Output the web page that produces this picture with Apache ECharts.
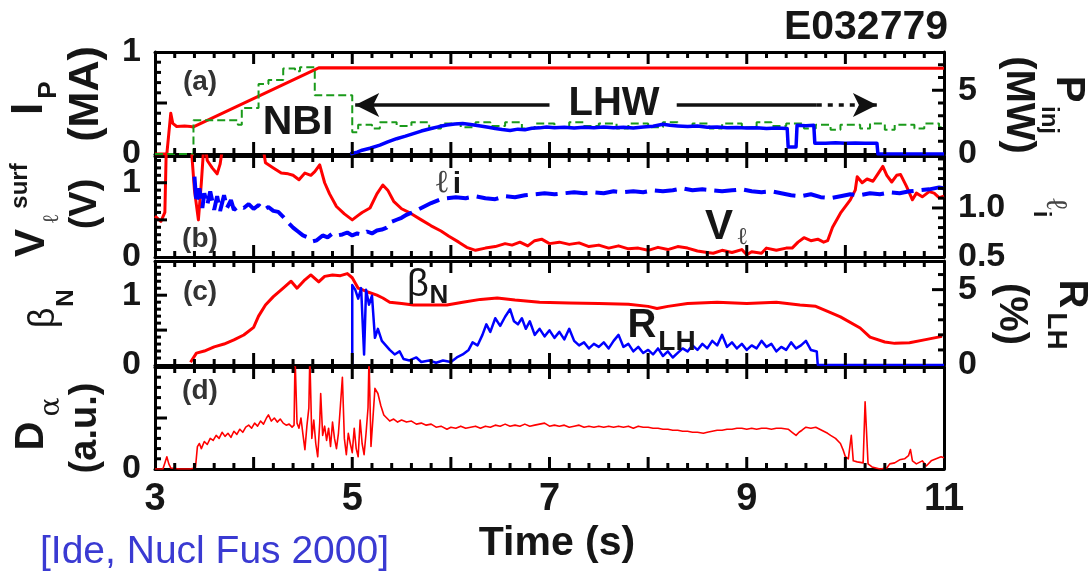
<!DOCTYPE html>
<html>
<head>
<meta charset="utf-8">
<script src="https://cdn.jsdelivr.net/npm/echarts@6/dist/echarts.min.js"></script>
<style>
  html, body { margin: 0; padding: 0; background: #fff; }
  #chart { width: 1089px; height: 580px; }
</style>
</head>
<body>
<div id="chart"></div>
<script>
// ---- time axis ----
const timeMin = 3, timeMax = 11;
const timeLabels = [3, 5, 7, 9, 11];

// ---- (a) plasma current (MA) and injected power (MW) ----
const ipCurrent = [[3.0,0],[3.12,0],[3.14,0.2],[3.16,0.4],[3.18,0.3],[3.22,0.27],[3.3,0.275],[3.36,0.27],[3.39,0.265],[4.66,0.845],[11.0,0.84]];
const nbiPower = [[3.0,0],[3.39,2.65],[3.84,2.3],[3.88,3.6],[4.05,5.5],[4.15,5.8],[4.3,6.7],[4.42,6.5],[4.47,6.8],[4.62,4.6],[5.0,1.7],[5.06,2.3],[5.2,2.0],[5.28,2.5],[5.45,2.2],[5.6,2.5],[5.78,2.0],[5.9,2.4],[6.1,2.1],[6.25,2.5],[6.4,2.2],[6.55,2.5],[6.72,2.0],[6.85,2.4],[7.05,2.1],[7.2,2.5],[7.35,2.2],[7.5,2.4],[7.68,2.0],[7.8,2.4],[8.0,2.1],[8.15,2.5],[8.3,2.2],[8.45,2.4],[8.62,2.0],[8.75,2.4],[8.95,2.1],[9.1,2.5],[9.25,2.2],[9.4,2.4],[9.58,2.0],[9.7,2.3],[9.85,1.9],[9.95,2.3],[10.15,2.0],[10.25,2.4],[10.4,1.9],[10.5,2.3],[10.7,2.0],[10.8,2.4],[10.95,2.1],[11.0,2.1]];
const lhwPower = [[4.98,0],[5.05,0.15],[5.1,0.3],[5.18,0.45],[5.28,0.7],[5.36,0.95],[5.45,1.2],[5.54,1.4],[5.62,1.6],[5.7,1.8],[5.8,2.0],[5.88,2.15],[5.96,2.27],[6.04,2.35],[6.12,2.4],[6.2,2.32],[6.3,2.2],[6.38,2.1],[6.45,2.0],[6.52,1.92],[6.6,1.85],[6.68,1.95],[6.75,1.9],[6.82,2.02],[6.9,2.05],[6.97,2.12],[7.05,2.06],[7.15,2.1],[7.25,2.03],[7.35,2.1],[7.45,2.05],[7.55,2.12],[7.65,2.06],[7.75,2.1],[7.85,2.04],[7.95,2.12],[8.05,2.18],[8.15,2.33],[8.22,2.25],[8.3,2.2],[8.4,2.15],[8.5,2.2],[8.6,2.1],[8.7,2.12],[8.8,2.05],[8.9,2.08],[9.0,2.03],[9.1,2.06],[9.2,2.0],[9.3,2.04],[9.41,2.0],[9.42,0.55],[9.5,0.55],[9.51,2.25],[9.6,2.22],[9.68,2.25],[9.69,0.85],[9.8,0.85],[9.9,0.88],[10.0,0.84],[10.1,0.87],[10.2,0.84],[10.32,0.85],[10.33,0],[11.0,0]];
// LHW period arrow (time span, height on the current axis)
const lhwArrowStart = 5.03, lhwGapStart = 7.0, lhwGapEnd = 8.29, lhwDashStart = 9.71, lhwArrowEnd = 10.32, lhwArrowLevel = 0.48;

// ---- (b) loop voltage (V) and internal inductance ----
const loopVoltage = [[3.0,0.55],[3.06,0.48],[3.1,0.6],[3.12,1.8],[3.35,1.8],[3.4,0.9],[3.44,0.5],[3.47,1.0],[3.5,1.6],[3.53,1.3],[3.58,1.2],[3.63,1.12],[3.66,1.25],[3.7,1.6],[4.08,1.6],[4.12,1.27],[4.2,1.2],[4.28,1.13],[4.35,1.12],[4.4,1.1],[4.46,1.04],[4.52,1.13],[4.58,1.1],[4.62,1.15],[4.67,1.24],[4.72,1.0],[4.77,0.85],[4.84,0.68],[4.92,0.58],[5.0,0.5],[5.05,0.55],[5.1,0.6],[5.18,0.66],[5.25,0.85],[5.31,0.97],[5.36,0.9],[5.42,0.75],[5.5,0.65],[5.59,0.59],[5.7,0.5],[5.8,0.42],[5.9,0.35],[5.98,0.28],[6.08,0.2],[6.16,0.13],[6.25,0.09],[6.35,0.12],[6.45,0.14],[6.55,0.18],[6.62,0.16],[6.7,0.2],[6.78,0.15],[6.85,0.22],[6.92,0.24],[7.0,0.18],[7.1,0.2],[7.2,0.17],[7.3,0.19],[7.4,0.14],[7.5,0.16],[7.6,0.12],[7.7,0.15],[7.8,0.11],[7.9,0.12],[8.0,0.09],[8.1,0.13],[8.2,0.1],[8.3,0.14],[8.4,0.12],[8.5,0.08],[8.6,0.06],[8.66,0.05],[8.75,0.09],[8.85,0.06],[8.95,0.1],[9.0,0.03],[9.05,0.07],[9.15,0.05],[9.2,0.12],[9.3,0.09],[9.4,0.12],[9.46,0.12],[9.52,0.2],[9.58,0.26],[9.65,0.22],[9.72,0.24],[9.78,0.2],[9.82,0.22],[9.87,0.4],[9.95,0.59],[10.05,0.77],[10.1,0.9],[10.12,1.08],[10.17,1.0],[10.22,1.05],[10.28,1.02],[10.33,1.12],[10.38,1.22],[10.42,1.1],[10.47,1.01],[10.52,1.1],[10.56,1.11],[10.62,0.95],[10.68,0.77],[10.72,0.86],[10.78,0.81],[10.85,0.88],[10.9,0.86],[10.95,0.8],[11.0,0.82]];
const inductance = [[3.4,1.32],[3.42,1.05],[3.45,1.2],[3.48,1.0],[3.5,1.15],[3.53,1.03],[3.56,1.17],[3.6,0.98],[3.63,1.12],[3.66,0.97],[3.7,1.13],[3.73,1.0],[3.77,1.08],[3.8,0.98],[3.85,1.02],[3.9,1.0],[3.95,1.04],[4.0,0.99],[4.05,1.03],[4.1,0.98],[4.15,1.01],[4.2,0.97],[4.25,0.96],[4.3,0.91],[4.35,0.85],[4.4,0.8],[4.45,0.76],[4.5,0.72],[4.55,0.7],[4.6,0.66],[4.64,0.67],[4.7,0.72],[4.75,0.7],[4.8,0.74],[4.85,0.72],[4.9,0.73],[4.95,0.75],[5.0,0.72],[5.05,0.74],[5.1,0.73],[5.15,0.76],[5.2,0.74],[5.25,0.77],[5.3,0.78],[5.35,0.8],[5.4,0.86],[5.45,0.88],[5.5,0.9],[5.55,0.93],[5.62,0.96],[5.7,1.0],[5.8,1.05],[5.9,1.09],[5.96,1.1],[6.05,1.11],[6.15,1.1],[6.25,1.12],[6.35,1.1],[6.45,1.09],[6.55,1.12],[6.65,1.11],[6.75,1.13],[6.85,1.14],[6.95,1.15],[7.05,1.14],[7.15,1.15],[7.25,1.16],[7.35,1.15],[7.45,1.16],[7.55,1.15],[7.65,1.17],[7.75,1.16],[7.85,1.17],[7.95,1.16],[8.05,1.18],[8.15,1.17],[8.25,1.18],[8.35,1.2],[8.45,1.18],[8.55,1.19],[8.65,1.18],[8.75,1.17],[8.85,1.18],[8.95,1.19],[9.05,1.17],[9.15,1.16],[9.25,1.17],[9.35,1.15],[9.45,1.13],[9.55,1.12],[9.65,1.14],[9.75,1.11],[9.85,1.1],[9.95,1.12],[10.05,1.14],[10.15,1.13],[10.25,1.15],[10.35,1.14],[10.45,1.16],[10.55,1.15],[10.65,1.17],[10.75,1.18],[10.85,1.19],[10.95,1.21],[11.0,1.2]];

// ---- (c) normalised beta and LH-driven current fraction (%) ----
const betaN = [[3.36,0.04],[3.42,0.17],[3.5,0.2],[3.6,0.26],[3.7,0.3],[3.8,0.36],[3.9,0.43],[4.0,0.54],[4.05,0.7],[4.12,0.86],[4.2,0.98],[4.3,1.1],[4.38,1.2],[4.44,1.1],[4.52,1.22],[4.58,1.29],[4.66,1.19],[4.72,1.27],[4.8,1.29],[4.88,1.28],[4.95,1.31],[5.0,1.25],[5.06,1.1],[5.15,1.05],[5.25,1.0],[5.31,0.96],[5.38,0.9],[5.5,0.88],[5.62,0.86],[5.8,0.86],[5.96,0.86],[6.12,0.9],[6.3,0.94],[6.47,0.96],[6.65,0.93],[6.9,0.9],[7.2,0.89],[7.5,0.88],[7.8,0.87],[8.0,0.84],[8.09,0.81],[8.2,0.84],[8.4,0.88],[8.7,0.9],[9.0,0.88],[9.3,0.9],[9.54,0.86],[9.7,0.84],[9.85,0.75],[9.95,0.69],[10.15,0.53],[10.25,0.4],[10.4,0.33],[10.5,0.31],[10.65,0.32],[10.8,0.36],[10.98,0.41]];
const lhFraction = [[5.0,0],[5.0,5.3],[5.03,5.0],[5.06,4.4],[5.09,5.1],[5.12,0.7],[5.14,5.0],[5.17,4.0],[5.2,4.6],[5.23,1.8],[5.26,2.4],[5.3,1.6],[5.34,1.3],[5.38,1.0],[5.43,0.7],[5.48,0.9],[5.52,0.4],[5.58,0.3],[5.65,0.5],[5.7,0.2],[5.78,0.3],[5.85,0.15],[5.92,0.3],[6.0,0.2],[6.06,0.5],[6.12,0.7],[6.18,1.0],[6.22,1.5],[6.27,1.3],[6.32,2.0],[6.36,2.7],[6.4,2.2],[6.45,3.1],[6.5,2.6],[6.55,3.2],[6.6,3.7],[6.64,2.9],[6.68,2.7],[6.72,3.1],[6.76,2.4],[6.8,2.9],[6.85,2.0],[6.9,2.4],[6.95,1.9],[7.0,2.3],[7.05,1.8],[7.1,2.2],[7.15,1.7],[7.2,2.4],[7.25,1.6],[7.3,1.3],[7.35,1.5],[7.4,1.1],[7.45,1.4],[7.5,1.2],[7.55,1.5],[7.6,1.1],[7.65,1.6],[7.7,2.0],[7.75,1.2],[7.8,1.4],[7.85,0.9],[7.9,1.2],[7.95,0.8],[8.0,1.0],[8.05,0.7],[8.1,1.1],[8.15,0.6],[8.2,0.9],[8.25,0.5],[8.3,0.8],[8.35,1.1],[8.4,0.9],[8.45,1.3],[8.5,1.0],[8.55,1.4],[8.6,1.1],[8.65,1.6],[8.7,1.3],[8.75,2.0],[8.8,1.2],[8.85,1.5],[8.9,1.1],[8.95,1.4],[9.0,1.0],[9.05,1.3],[9.1,1.1],[9.15,1.6],[9.2,1.2],[9.25,1.4],[9.3,0.9],[9.35,1.2],[9.4,1.0],[9.45,1.5],[9.5,1.1],[9.55,1.3],[9.6,1.6],[9.65,1.0],[9.71,0.9],[9.72,0],[11.0,0]];

// ---- (d) D-alpha emission (a.u.) ----
const dAlpha = [[3.0,0],[3.08,0],[3.1,0.06],[3.12,0.12],[3.14,0.05],[3.16,0.01],[3.25,0],[3.35,0],[3.41,0.01],[3.43,0.22],[3.45,0.25],[3.47,0.2],[3.5,0.27],[3.53,0.24],[3.56,0.3],[3.59,0.28],[3.62,0.33],[3.65,0.3],[3.68,0.36],[3.71,0.32],[3.74,0.35],[3.77,0.31],[3.8,0.37],[3.83,0.34],[3.86,0.39],[3.89,0.36],[3.92,0.41],[3.95,0.43],[3.98,0.4],[4.01,0.45],[4.04,0.42],[4.07,0.47],[4.1,0.44],[4.13,0.5],[4.15,0.53],[4.18,0.47],[4.21,0.5],[4.24,0.46],[4.27,0.49],[4.3,0.45],[4.33,0.43],[4.36,0.44],[4.39,0.41],[4.41,0.43],[4.42,1.1],[4.44,0.45],[4.46,0.4],[4.48,0.5],[4.5,0.34],[4.52,0.19],[4.54,0.42],[4.56,0.6],[4.57,1.1],[4.59,0.3],[4.61,0.48],[4.63,0.25],[4.65,0.12],[4.67,0.45],[4.68,0.74],[4.7,0.33],[4.72,0.42],[4.74,0.28],[4.76,0.4],[4.78,0.22],[4.8,0.46],[4.82,0.3],[4.84,0.2],[4.86,0.35],[4.88,0.62],[4.9,0.9],[4.92,0.3],[4.94,0.14],[4.96,0.35],[4.98,0.25],[5.0,0.16],[5.02,0.4],[5.04,0.2],[5.06,0.12],[5.08,0.48],[5.1,0.25],[5.12,0.14],[5.14,0.35],[5.16,0.6],[5.17,1.1],[5.19,0.22],[5.21,0.5],[5.23,0.79],[5.26,0.74],[5.29,0.62],[5.32,0.53],[5.35,0.5],[5.38,0.47],[5.42,0.49],[5.46,0.46],[5.5,0.48],[5.55,0.46],[5.6,0.47],[5.65,0.44],[5.7,0.45],[5.75,0.43],[5.8,0.44],[5.85,0.41],[5.9,0.42],[5.96,0.39],[6.0,0.41],[6.05,0.4],[6.1,0.42],[6.15,0.4],[6.2,0.41],[6.25,0.42],[6.3,0.4],[6.35,0.42],[6.4,0.41],[6.45,0.43],[6.5,0.42],[6.55,0.44],[6.6,0.42],[6.65,0.43],[6.7,0.42],[6.75,0.44],[6.8,0.42],[6.85,0.43],[6.9,0.44],[6.95,0.45],[7.0,0.42],[7.05,0.43],[7.1,0.42],[7.15,0.43],[7.2,0.41],[7.25,0.42],[7.3,0.43],[7.35,0.41],[7.4,0.42],[7.45,0.41],[7.5,0.42],[7.55,0.41],[7.6,0.42],[7.65,0.41],[7.7,0.42],[7.75,0.41],[7.8,0.42],[7.85,0.4],[7.9,0.42],[7.95,0.41],[8.0,0.41],[8.05,0.4],[8.1,0.4],[8.15,0.39],[8.2,0.39],[8.25,0.38],[8.3,0.38],[8.35,0.37],[8.4,0.37],[8.45,0.36],[8.5,0.36],[8.56,0.35],[8.6,0.36],[8.65,0.37],[8.7,0.38],[8.75,0.38],[8.8,0.39],[8.85,0.39],[8.9,0.4],[8.95,0.4],[9.0,0.39],[9.05,0.4],[9.1,0.39],[9.15,0.4],[9.2,0.4],[9.25,0.39],[9.3,0.4],[9.35,0.4],[9.42,0.39],[9.46,0.36],[9.5,0.33],[9.53,0.36],[9.56,0.38],[9.6,0.41],[9.65,0.4],[9.7,0.41],[9.74,0.39],[9.78,0.37],[9.82,0.35],[9.85,0.33],[9.9,0.3],[9.95,0.25],[9.98,0.18],[10.0,0.12],[10.03,0.1],[10.05,0.09],[10.06,0.33],[10.08,0.08],[10.12,0.07],[10.18,0.06],[10.2,0.66],[10.23,0.05],[10.27,0.02],[10.35,0.0],[10.42,0.01],[10.45,0.05],[10.5,0.06],[10.55,0.09],[10.6,0.1],[10.64,0.13],[10.66,0.19],[10.68,0.08],[10.72,0.05],[10.78,0.08],[10.82,0.03],[10.87,0.08],[10.92,0.1],[10.97,0.12],[11.0,0.11]];

// ---- styling ----
const FONT = '"Liberation Sans", Arial, Helvetica, sans-serif';
const INK = '#161616';
const RED = '#ff0000', BLUE = '#0000ff', GREEN = '#1a9a1a';
const FRAME = { color: '#000', width: 3 };
const TICK_W = 3, MAJOR_LEN = 12, MINOR_LEN = 6;

const panels = [
  { top: 52, height: 102 },
  { top: 156, height: 101 },
  { top: 261, height: 104 },
  { top: 367, height: 102 }
];
const grid = panels.map(p => ({ left: 155, right: 145, top: p.top, height: p.height, containLabel: false }));

// Tick mark positions: [value, isMajor]
function tickList(from, to, step, majors) {
  const out = [];
  const n = Math.round((to - from) / step);
  for (let k = 0; k <= n; k++) {
    const v = +(from + k * step).toFixed(6);
    out.push([v, majors.some(m => Math.abs(m - v) < 1e-6) ? 1 : 0]);
  }
  return out;
}
const timeTickMarks = tickList(3.2, 10.8, 0.2, [4, 5, 6, 7, 8, 9, 10]);

const xAxis = [];
panels.forEach((p, i) => {
  xAxis.push({
    gridIndex: i, type: 'value', position: 'bottom', min: timeMin, max: timeMax, interval: 1,
    axisLine: { show: true, onZero: false, lineStyle: FRAME },
    axisTick: { show: false }, minorTick: { show: false },
    splitLine: { show: false }, minorSplitLine: { show: false },
    axisLabel: {
      show: i === panels.length - 1,
      margin: 12, fontSize: 38, fontWeight: 'bold', fontFamily: FONT, color: INK,
      formatter: v => timeLabels.some(l => Math.abs(l - v) < 1e-6) ? String(Math.round(v)) : ''
    }
  });
  xAxis.push({
    gridIndex: i, type: 'value', position: 'top', min: timeMin, max: timeMax,
    axisLine: { show: true, onZero: false, lineStyle: FRAME },
    axisTick: { show: false }, axisLabel: { show: false }, splitLine: { show: false }
  });
});

const yAxis = [];
function addValueAxis(gi, pos, min, max, step, labels, digits) {
  yAxis.push({
    gridIndex: gi, type: 'value', position: pos, min, max, interval: step,
    axisLine: { show: true, onZero: false, lineStyle: FRAME },
    axisTick: { show: false },
    splitLine: { show: false },
    axisLabel: {
      show: labels.length > 0, margin: 14, fontSize: 34, fontWeight: 'bold', fontFamily: FONT, color: INK,
      showMinLabel: true, showMaxLabel: true,
      formatter: v => {
        const hit = labels.find(l => Math.abs(l - v) < 1e-6);
        return hit === undefined ? '' : hit.toFixed(digits);
      }
    }
  });
  return yAxis.length - 1;
}

const yIp = addValueAxis(0, 'left', 0, 1, 0.1, [0, 1], 0);
const yPinj = addValueAxis(0, 'right', 0, 8, 1, [0, 5], 0);
const yVl = addValueAxis(1, 'left', 0, 1.36, 0.1, [0, 1], 0);
const yLi = addValueAxis(1, 'right', 0.5, 1.53, 0.1, [0.5, 1.0], 1);
const yBeta = addValueAxis(2, 'left', 0, 1.49, 0.1, [0, 1], 0);
const yRlh = addValueAxis(2, 'right', 0, 6.9, 1, [0, 5], 0);
const yDa = addValueAxis(3, 'left', 0, 1, 0.1, [0], 0);
addValueAxis(3, 'right', 0, 1, 0.5, [], 0);

// Inward tick marks drawn on the panel frames
function tickSeries(xi, yi, marks, kind, yMin, yMax) {
  return {
    type: 'custom', xAxisIndex: xi, yAxisIndex: yi, data: marks, silent: true, animation: false,
    clip: false, z: 5,
    renderItem: (params, api) => {
      const v = api.value(0);
      const len = api.value(1) ? MAJOR_LEN : MINOR_LEN;
      const style = { stroke: '#000', lineWidth: TICK_W };
      if (kind === 'x') {
        const b = api.coord([v, yMin]);
        const t = api.coord([v, yMax]);
        return { type: 'group', children: [
          { type: 'line', shape: { x1: b[0], y1: b[1], x2: b[0], y2: b[1] - len }, style },
          { type: 'line', shape: { x1: t[0], y1: t[1], x2: t[0], y2: t[1] + len }, style }
        ] };
      }
      const p = api.coord([kind === 'left' ? timeMin : timeMax, v]);
      const dir = kind === 'left' ? 1 : -1;
      return { type: 'line', shape: { x1: p[0], y1: p[1], x2: p[0] + dir * len, y2: p[1] }, style };
    }
  };
}

function line(name, data, xi, yi, color, width, extra) {
  return Object.assign({
    name, type: 'line', data, xAxisIndex: xi, yAxisIndex: yi,
    showSymbol: false, symbol: 'none', animation: false, clip: true,
    lineStyle: { color, width, join: 'round' }
  }, extra || {});
}

const arrowLine = { color: '#111', width: 3.5, type: 'solid' };
const series = [
  line('Ip', ipCurrent, 0, yIp, RED, 3, {
    markLine: {
      silent: true, animation: false, symbolSize: [18, 24], label: { show: false },
      data: [
        [{ coord: [lhwArrowStart, lhwArrowLevel], symbol: 'arrow' }, { coord: [lhwGapStart, lhwArrowLevel], symbol: 'none' }],
        [{ coord: [lhwGapEnd, lhwArrowLevel], symbol: 'none' }, { coord: [lhwDashStart, lhwArrowLevel], symbol: 'none' }],
        [{ coord: [lhwDashStart, lhwArrowLevel], symbol: 'none', lineStyle: { type: [5, 6] } }, { coord: [lhwArrowEnd, lhwArrowLevel], symbol: 'arrow' }]
      ],
      lineStyle: arrowLine
    }
  }),
  line('P NBI', nbiPower, 0, yPinj, GREEN, 2, { step: 'end', lineStyle: { color: GREEN, width: 2, type: [8, 4] } }),
  line('P LHW', lhwPower, 0, yPinj, BLUE, 3.5),
  line('Vloop', loopVoltage, 2, yVl, RED, 3),
  line('li', inductance, 2, yLi, BLUE, 4, { lineStyle: { color: BLUE, width: 4, type: [22, 8] } }),
  line('betaN', betaN, 4, yBeta, RED, 3),
  line('R_LH', lhFraction, 4, yRlh, BLUE, 2.5),
  line('Dalpha', dAlpha, 6, yDa, RED, 1.6),

  // frame ticks
  tickSeries(0, yIp, timeTickMarks, 'x', 0, 1),
  tickSeries(2, yVl, timeTickMarks, 'x', 0, 1.36),
  tickSeries(4, yBeta, timeTickMarks, 'x', 0, 1.49),
  tickSeries(6, yDa, timeTickMarks, 'x', 0, 1),
  tickSeries(0, yIp, tickList(0.1, 0.9, 0.1, [0.5]), 'left'),
  tickSeries(0, yPinj, tickList(1, 7, 1, [5]), 'right'),
  tickSeries(2, yVl, tickList(0.1, 1.3, 0.1, [0.5, 1]), 'left'),
  tickSeries(2, yLi, tickList(0.6, 1.5, 0.1, [1.0]), 'right'),
  tickSeries(4, yBeta, tickList(0.1, 1.4, 0.1, [0.5, 1]), 'left'),
  tickSeries(4, yRlh, tickList(1, 6, 1, [5]), 'right'),
  tickSeries(6, yDa, tickList(0.1, 0.9, 0.1, [0.5]), 'left')
];

// ---- text: axis titles, panel tags, annotations ----
function txt(text, x, y, size, opts) {
  const o = opts || {};
  return {
    type: 'text', x, y, rotation: o.rot || 0, silent: true, z: 100,
    style: {
      text, fontSize: size, fontWeight: o.weight || 'bold', fontFamily: o.family || FONT,
      fill: o.color || INK, align: o.align || 'center', verticalAlign: 'middle',
      fontStyle: o.style || 'normal'
    }
  };
}
const UP = Math.PI / 2, DOWN = -Math.PI / 2;
const ELL = { family: '"DejaVu Serif", serif', weight: 'normal', color: '#444' };

const graphic = [
  // (a) titles
  txt('I', 30, 109, 44, { rot: UP }),
  txt('P', 49, 90, 26, { rot: UP }),
  txt('(MA)', 86, 94, 43, { rot: UP }),
  txt('P', 1068, 89, 40, { rot: DOWN }),
  txt('inj', 1049, 120, 24, { rot: DOWN }),
  txt('(MW)', 1018, 105, 40, { rot: DOWN }),
  // (b) titles
  txt('V', 32, 243, 42, { rot: UP }),
  txt('surf', 20, 186, 24, { rot: UP }),
  txt('\u2113', 52, 219, 22, Object.assign({ rot: UP }, ELL)),
  txt('(V)', 86, 204, 38, { rot: UP }),
  txt('\u2113', 1055, 204, 30, Object.assign({ rot: DOWN }, ELL)),
  txt('i', 1041, 214, 24, { rot: DOWN }),
  // (c) titles
  txt('\u03b2', 44, 318, 36, { rot: UP, weight: 'normal' }),
  txt('N', 66, 298, 24, { rot: UP }),
  txt('(%)', 1011, 314, 40, { rot: DOWN }),
  txt('R', 1071, 294, 40, { rot: DOWN }),
  txt('LH', 1056, 331, 28, { rot: DOWN }),
  // (d) titles
  txt('D', 32, 436, 40, { rot: UP }),
  txt('\u03b1', 52, 407, 28, { rot: UP, weight: 'normal', family: '"DejaVu Serif", serif' }),
  txt('(a.u.)', 86, 428, 38, { rot: UP }),
  // panel tags
  txt('(a)', 200, 82, 28, { color: '#333' }),
  txt('(b)', 200, 239, 28, { color: '#333' }),
  txt('(c)', 200, 292, 28, { color: '#333' }),
  txt('(d)', 200, 391, 28, { color: '#333' }),
  // annotations
  txt('NBI', 298, 123, 41),
  txt('LHW', 614, 104, 40),
  txt('\u2113', 442, 184, 32, ELL),
  txt('i', 457, 185, 30),
  txt('V', 719, 227, 42),
  txt('\u2113', 742, 238, 24, ELL),
  txt('\u03b2', 418, 286, 38, { weight: 'normal' }),
  txt('N', 439, 296, 26),
  txt('R', 642, 326, 40),
  txt('LH', 677, 342, 28),
  // shot number, axis title, reference
  txt('E032779', 866, 28, 41),
  txt('Time (s)', 557, 544, 41),
  txt('[Ide, Nucl Fus 2000]', 40, 552, 39, { weight: 'normal', color: '#3a3ad2', align: 'left' })
];

const chart = echarts.init(document.getElementById('chart'), null, { renderer: 'canvas' });
chart.setOption({
  animation: false,
  backgroundColor: '#fff',
  grid, xAxis, yAxis, series, graphic
});
</script>
</body>
</html>
